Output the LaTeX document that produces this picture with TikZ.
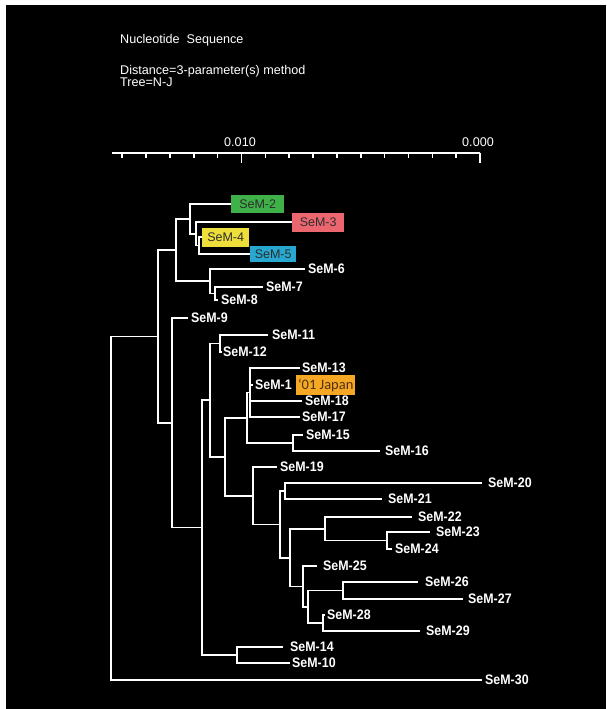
\documentclass[tikz,border=0pt]{standalone}
\usepackage{fontspec}
\setmainfont{Liberation Sans}
\newfontfamily\leaffont[FakeStretch=0.9]{Liberation Sans Bold}
\newfontfamily\notefont{Carlito}
\usetikzlibrary{positioning}
\definecolor{stripgreen}{RGB}{62, 178, 72}
\definecolor{stripred}{RGB}{236, 102, 112}
\definecolor{stripyellow}{RGB}{238, 222, 60}
\definecolor{stripblue}{RGB}{38, 168, 208}
\definecolor{stripgold}{RGB}{246, 168, 36}
\definecolor{boxtext}{RGB}{45, 45, 45}
\definecolor{notetext}{RGB}{80, 50, 15}
\tikzset{
  branch/.style  = {draw=white, line width=1.6pt},
  axis/.style    = {draw=white, line width=1.6pt},
  leaf/.style    = {text=white, inner sep=0pt,
                    font=\leaffont\fontsize{13.8}{13.8}\selectfont,
                    text height=9.8pt, text depth=0pt},
  strain/.style  = {inner sep=0pt, text=boxtext,
                    font=\fontsize{12.5}{12.5}\selectfont,
                    text height=9pt, text depth=0pt,
                    minimum height=18pt, anchor=west},
  caption/.style = {text=white, inner sep=0pt, anchor=west,
                    font=\fontsize{12.6}{12.6}\selectfont,
                    text height=9pt, text depth=0pt}
}

\begin{document}
\begin{tikzpicture}[x=1pt, y=-1pt]
  \useasboundingbox (0,0) rectangle (606,709);
  \fill[black] (6,5) rectangle (606,709);

  \node [caption] (title) at (120,39) {Nucleotide~~Sequence};
  \node [caption] (dist) at (120,70) {Distance=3-parameter(s) method};
  \node [caption] (tree) at (120,82) {Tree=N-J};

  \coordinate (axL) at (112,153);
  \coordinate (axR) at (480,153);
  \draw[axis] (axL) -- (axR);
  \foreach \i in {1,...,9,11,12,13,14,15}
    \draw[axis] ({480-23.85*\i},153) -- ++(0,5);
  \draw[axis] (axR) -- ++(0,10);
  \draw[axis] (241.5,153) -- ++(0,10);
  \node [caption, anchor=center] (lab010) at (240,142) {0.010};
  \node [caption, anchor=center] (lab000) at (478,142) {0.000};

  \node [strain, fill=stripgreen, minimum width=53pt] (s2) at (231,204) {SeM-2};
  \node [strain, fill=stripred, minimum width=52pt, minimum height=19pt] (s3) at (292,222) {SeM-3};
  \node [strain, fill=stripyellow, minimum width=47pt, minimum height=19pt] (s4) at (202,237) {SeM-4};
  \node [strain, fill=stripblue, minimum width=46pt, minimum height=16pt] (s5) at (250,254) {SeM-5};

  \coordinate (t6) at (305,269);
  \coordinate (t7) at (263,287);
  \coordinate (t8) at (218,300);
  \coordinate (t9) at (188,318);
  \coordinate (t11) at (268,335);
  \coordinate (t12) at (222,352);
  \coordinate (t13) at (300,368);
  \coordinate (t1) at (253,385);
  \coordinate (t18) at (302,401);
  \coordinate (t17) at (300,417);
  \coordinate (t15) at (303,435);
  \coordinate (t16) at (380,451);
  \coordinate (t19) at (277,467);
  \coordinate (t20) at (482,483);
  \coordinate (t21) at (382,499);
  \coordinate (t22) at (412,517);
  \coordinate (t23) at (430,532);
  \coordinate (t24) at (392,549);
  \coordinate (t25) at (317,566);
  \coordinate (t26) at (418,582);
  \coordinate (t27) at (463,599);
  \coordinate (t28) at (325,615);
  \coordinate (t29) at (420,631);
  \coordinate (t14) at (283,647);
  \coordinate (t10) at (290,663);
  \coordinate (t30) at (482,680);

  \node [leaf] (s6) [right=3pt of t6] {SeM-6};
  \node [leaf] (s7) [right=3pt of t7] {SeM-7};
  \node [leaf] (s8) [right=3pt of t8] {SeM-8};
  \node [leaf] (s9) [right=3pt of t9] {SeM-9};
  \node [leaf] (s11) [right=4pt of t11] {SeM-11};
  \node [leaf] (s12) [right=1pt of t12] {SeM-12};
  \node [leaf] (s13) [right=2pt of t13] {SeM-13};
  \node [leaf] (s1) [right=2pt of t1] {SeM-1};
  \node [strain, fill=stripgold, minimum width=59pt, minimum height=20pt,
         font=\notefont\fontsize{14.5}{14.5}\selectfont, text=notetext] (note) at (296,385) {‘01 Japan};
  \node [leaf] (s18) [right=3pt of t18] {SeM-18};
  \node [leaf] (s17) [right=2pt of t17] {SeM-17};
  \node [leaf] (s15) [right=3pt of t15] {SeM-15};
  \node [leaf] (s16) [right=5pt of t16] {SeM-16};
  \node [leaf] (s19) [right=3pt of t19] {SeM-19};
  \node [leaf] (s20) [right=6pt of t20] {SeM-20};
  \node [leaf] (s21) [right=6pt of t21] {SeM-21};
  \node [leaf] (s22) [right=6pt of t22] {SeM-22};
  \node [leaf] (s23) [right=6pt of t23] {SeM-23};
  \node [leaf] (s24) [right=3pt of t24] {SeM-24};
  \node [leaf] (s25) [right=6pt of t25] {SeM-25};
  \node [leaf] (s26) [right=7pt of t26] {SeM-26};
  \node [leaf] (s27) [right=5pt of t27] {SeM-27};
  \node [leaf] (s28) [right=2pt of t28] {SeM-28};
  \node [leaf] (s29) [right=6pt of t29] {SeM-29};
  \node [leaf] (s14) [right=7pt of t14] {SeM-14};
  \node [leaf] (s10) [right=2pt of t10] {SeM-10};
  \node [leaf] (s30) [right=3pt of t30] {SeM-30};

  \coordinate (nC) at (199,245.5);
  \coordinate (nB) at (196,233.7);
  \coordinate (nA) at (190,219);
  \coordinate (nE) at (215,293.5);
  \coordinate (nD) at (210,281);
  \coordinate (nX) at (176,250);
  \coordinate (nT) at (250,392.5);
  \coordinate (nF) at (293,443);
  \coordinate (nS) at (247,418);
  \coordinate (nG) at (220,343.5);
  \coordinate (nH) at (285,491);
  \coordinate (nI) at (387,540.5);
  \coordinate (nJ) at (325,529);
  \coordinate (nK) at (343,590.5);
  \coordinate (nL) at (323,623);
  \coordinate (nM) at (308,607);
  \coordinate (nN) at (303,586.5);
  \coordinate (nO) at (290,558);
  \coordinate (nP) at (280,524.5);
  \coordinate (nW) at (253,496);
  \coordinate (nR) at (225,457);
  \coordinate (nQ) at (210,400);
  \coordinate (nV) at (237,655);
  \coordinate (nZ) at (202,527.5);
  \coordinate (n9) at (172,423);
  \coordinate (nY) at (158,336.5);
  \coordinate (root) at (111,508);

  \draw[branch] (nC) |- (s4.west);
  \draw[branch] (nC) |- (s5.west);
  \draw[branch] (nB) |- (s3.west);
  \draw[branch] (nB) |- (nC);
  \draw[branch] (nA) |- (s2.west);
  \draw[branch] (nA) |- (nB);
  \draw[branch] (nE) |- (t7);
  \draw[branch] (nE) |- (t8);
  \draw[branch] (nD) |- (t6);
  \draw[branch] (nD) |- (nE);
  \draw[branch] (nX) |- (nA);
  \draw[branch] (nX) |- (nD);
  \draw[branch] (nT) |- (t13);
  \draw[branch] (nT) |- (t1);
  \draw[branch] (nT) |- (t18);
  \draw[branch] (nT) |- (t17);
  \draw[branch] (nF) |- (t15);
  \draw[branch] (nF) |- (t16);
  \draw[branch] (nS) |- (nT);
  \draw[branch] (nS) |- (nF);
  \draw[branch] (nG) |- (t11);
  \draw[branch] (nG) |- (t12);
  \draw[branch] (nH) |- (t20);
  \draw[branch] (nH) |- (t21);
  \draw[branch] (nI) |- (t23);
  \draw[branch] (nI) |- (t24);
  \draw[branch] (nJ) |- (t22);
  \draw[branch] (nJ) |- (nI);
  \draw[branch] (nK) |- (t26);
  \draw[branch] (nK) |- (t27);
  \draw[branch] (nL) |- (t28);
  \draw[branch] (nL) |- (t29);
  \draw[branch] (nM) |- (nK);
  \draw[branch] (nM) |- (nL);
  \draw[branch] (nN) |- (t25);
  \draw[branch] (nN) |- (nM);
  \draw[branch] (nO) |- (nJ);
  \draw[branch] (nO) |- (nN);
  \draw[branch] (nP) |- (nH);
  \draw[branch] (nP) |- (nO);
  \draw[branch] (nW) |- (t19);
  \draw[branch] (nW) |- (nP);
  \draw[branch] (nR) |- (nS);
  \draw[branch] (nR) |- (nW);
  \draw[branch] (nQ) |- (nG);
  \draw[branch] (nQ) |- (nR);
  \draw[branch] (nV) |- (t14);
  \draw[branch] (nV) |- (t10);
  \draw[branch] (nZ) |- (nQ);
  \draw[branch] (nZ) |- (nV);
  \draw[branch] (n9) |- (t9);
  \draw[branch] (n9) |- (nZ);
  \draw[branch] (nY) |- (nX);
  \draw[branch] (nY) |- (n9);
  \draw[branch] (root) |- (nY);
  \draw[branch] (root) |- (t30);
\end{tikzpicture}
\end{document}
